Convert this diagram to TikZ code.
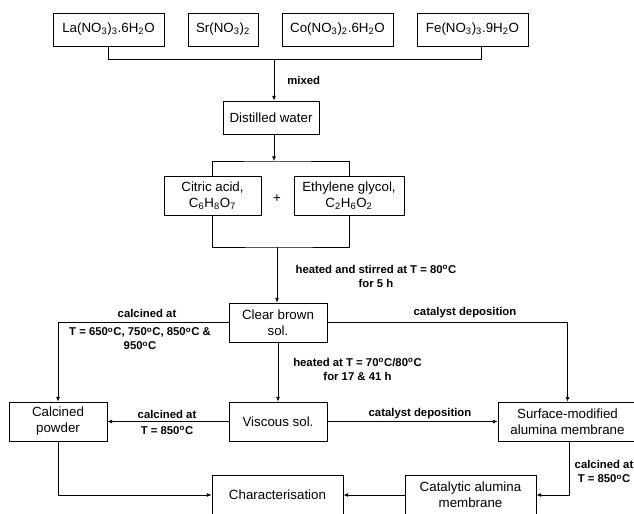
\documentclass[tikz,border=0pt]{standalone}
\usepackage{fontspec}
\setmainfont{Liberation Sans}
\usetikzlibrary{arrows.meta}
\newcommand{\degC}{\textsuperscript{o}C}
\newcommand{\ch}[1]{\textsubscript{#1}}

\begin{document}
\begin{tikzpicture}[x=0.75pt,y=-0.75pt,line width=0.6pt,
    >={Latex[length=3.5pt,width=3pt]},
    box/.style={draw,inner sep=0pt,align=center,font=\fontsize{10}{12}\selectfont},
    salt/.style={box,minimum height=24.75pt,minimum width=83.25pt},
    stage/.style={box,minimum height=29.25pt,minimum width=73.5pt},
    lbl/.style={inner sep=0pt,align=center,font=\bfseries\fontsize{8.5}{10.5}\selectfont}]
    \useasboundingbox (0,0) rectangle (634,513);

    % precursors
    \node[salt] (la) at (108.5,29.5) {La(NO\ch{3})\ch{3}.6H\ch{2}O};
    \node[salt,minimum width=52.5pt] (sr) at (223,29.5) {Sr(NO\ch{3})\ch{2}};
    \node[salt] (co) at (337.5,29.5) {Co(NO\ch{3})\ch{2}.6H\ch{2}O};
    \node[salt] (fe) at (472.5,29.5) {Fe(NO\ch{3})\ch{3}.9H\ch{2}O};
    \coordinate (j1) at (274,59);
    \draw (la.south) |- (j1);
    \draw ([xshift=7pt]fe.south) |- (j1);
    \node[box,minimum width=72pt,minimum height=24.75pt] (dw) at (271,117.5) {Distilled water};
    \draw[->] (j1) -- (j1 |- dw.north);
    \node[lbl,anchor=west] (mix) at (287,80) {mixed};

    % chelating agents
    \node[stage,minimum width=72.75pt] (cit) at (212.5,195.5) {Citric acid,\\C\ch{6}H\ch{8}O\ch{7}};
    \node[stage,minimum width=82.5pt] (eg) at (349,195.5) {Ethylene glycol,\\C\ch{2}H\ch{6}O\ch{2}};
    \node[font=\fontsize{10}{12}\selectfont] (plus) at (277,199) {+};
    \coordinate (j2) at (274,161);
    \draw[->] (dw.south -| j2) -- (j2);
    \draw (cit.north) |- (j2) -| (eg.north);
    \coordinate (j3) at (277,247);
    \draw (cit.south) |- (j3) -| (eg.south);

    % sol-gel
    \node[stage] (cb) at (278,322.5) {Clear brown\\sol.};
    \draw[->] (j3) -- (j3 |- cb.north);
    \node[lbl] (heat1) at (376,276) {heated and stirred at T = 80\degC\\for 5 h};
    \node[stage] (cp) at (58,421.5) {Calcined\\powder};
    \node[stage] (vs) at (278,421.5) {Viscous sol.};
    \node[stage,minimum width=104.25pt] (sm) at (567.5,421.5) {Surface-modified\\alumina membrane};
    \draw[->] (cb.west) -| (cp.north);
    \draw[->] (cb.east) -| (sm.north);
    \draw[->] (cb.south) -- (vs.north);
    \node[lbl] (calc1) at (147,313) {calcined at};
    \node[lbl] (temps) at (140,339) {T = 650\degC, 750\degC, 850\degC{} \&\\950\degC};
    \node[lbl] (dep1) at (465,313) {catalyst deposition};
    \node[lbl] (heat2) at (357.5,369) {heated at T = 70\degC/80\degC\\for 17 \& 41 h};

    \draw[->] (vs.west) -- (cp.east);
    \draw[->] (vs.east) -- (sm.west);
    \node[lbl] (calc2) at (167,422) {calcined at\\[1.5pt]T = 850\degC};
    \node[lbl] (dep2) at (420,414) {catalyst deposition};

    % products
    \node[box,minimum width=98.25pt,minimum height=30pt] (chr) at (277.5,495) {Characterisation};
    \node[box,minimum width=98.25pt,minimum height=30pt] (cat) at (470.5,495) {Catalytic alumina\\membrane};
    \draw[->] ([xshift=1.5pt]sm.south) |- (cat.east);
    \draw[->] (cat.west) -- (chr.east);
    \draw[->] (cp.south) |- (chr.west);
    \node[lbl] (calc3) at (604,471.5) {calcined at\\[0.5pt]T = 850\degC};
\end{tikzpicture}
\end{document}
